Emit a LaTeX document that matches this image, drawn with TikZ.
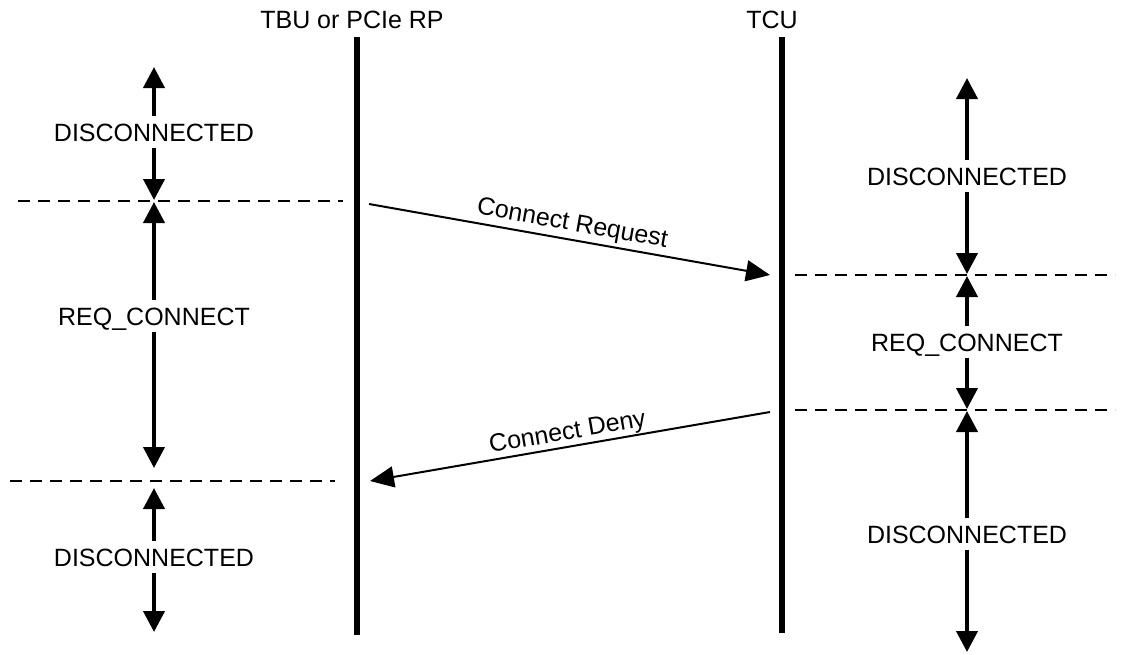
\documentclass[tikz,border=0pt]{standalone}
\usepackage{fontspec}
\setmainfont{Liberation Sans}
\usetikzlibrary{arrows.meta}
\begin{document}
\begin{tikzpicture}[x=1pt,y=-1pt,
  font=\fontsize{25}{30}\selectfont,
  life/.style={line width=6pt},
  statearrow/.style={line width=4pt, -{Triangle[length=21pt,width=21pt]}},
  msg/.style={line width=2pt, -{Triangle[length=24pt,width=21pt]}},
  sepline/.style={line width=1.8pt, dash pattern=on 12pt off 8pt},
  lbl/.style={inner xsep=0pt, inner ysep=7pt, text height=18pt, text depth=0pt},
  title/.style={inner sep=0pt, text height=18pt, text depth=0pt}]
\useasboundingbox (0,0) rectangle (1121,654);

% titles
\node[title] (tbu) at (352,19) {TBU or PCIe RP};
\node[title] (tcu) at (772,19) {TCU};

% lifelines
\coordinate (tbuTop) at (357,37);
\coordinate (tbuBot) at (357,635);
\coordinate (tcuTop) at (782,37);
\coordinate (tcuBot) at (782,633);
\draw[life] (tbuTop) -- (tbuBot);
\draw[life] (tcuTop) -- (tcuBot);

% dashed separators
\coordinate (sA1) at (18,201);  \coordinate (sA2) at (343,201);
\coordinate (sB1) at (10,481);  \coordinate (sB2) at (335,481);
\coordinate (sC1) at (795,275); \coordinate (sC2) at (1115,275);
\coordinate (sD1) at (795,410); \coordinate (sD2) at (1115,410);
\draw[sepline] (sA1) -- (sA2);
\draw[sepline] (sB1) -- (sB2);
\draw[sepline] (sC1) -- (sC2);
\draw[sepline] (sD1) -- (sD2);

% left states
\node[lbl] (ld1) at (154,132) {DISCONNECTED};
\coordinate (ld1t) at (154,67);  \coordinate (ld1b) at (154,200);
\draw[statearrow] (ld1) -- (ld1t);
\draw[statearrow] (ld1) -- (ld1b);

\node[lbl] (lrq) at (154,316) {REQ\_CONNECT};
\coordinate (lrqt) at (154,202); \coordinate (lrqb) at (154,468);
\draw[statearrow] (lrq) -- (lrqt);
\draw[statearrow] (lrq) -- (lrqb);

\node[lbl] (ld2) at (154,557) {DISCONNECTED};
\coordinate (ld2t) at (154,488); \coordinate (ld2b) at (154,632);
\draw[statearrow] (ld2) -- (ld2t);
\draw[statearrow] (ld2) -- (ld2b);

% right states
\node[lbl] (rd1) at (967,176) {DISCONNECTED};
\coordinate (rd1t) at (967,78);  \coordinate (rd1b) at (967,274);
\draw[statearrow] (rd1) -- (rd1t);
\draw[statearrow] (rd1) -- (rd1b);

\node[lbl] (rrq) at (967,342) {REQ\_CONNECT};
\coordinate (rrqt) at (967,276); \coordinate (rrqb) at (967,409);
\draw[statearrow] (rrq) -- (rrqt);
\draw[statearrow] (rrq) -- (rrqb);

\node[lbl] (rd2) at (967,534) {DISCONNECTED};
\coordinate (rd2t) at (967,411); \coordinate (rd2b) at (967,652);
\draw[statearrow] (rd2) -- (rd2t);
\draw[statearrow] (rd2) -- (rd2b);

% messages
\coordinate (reqS) at (369,204); \coordinate (reqE) at (770,275);
\coordinate (denS) at (770,412); \coordinate (denE) at (370,481);
\draw[msg] (reqS) -- node[sloped, above, inner sep=3pt] (reqL) {Connect Request} (reqE);
\draw[msg] (denS) -- node[sloped, above, inner sep=1pt] (denL) {Connect Deny} (denE);
\end{tikzpicture}
\end{document}
